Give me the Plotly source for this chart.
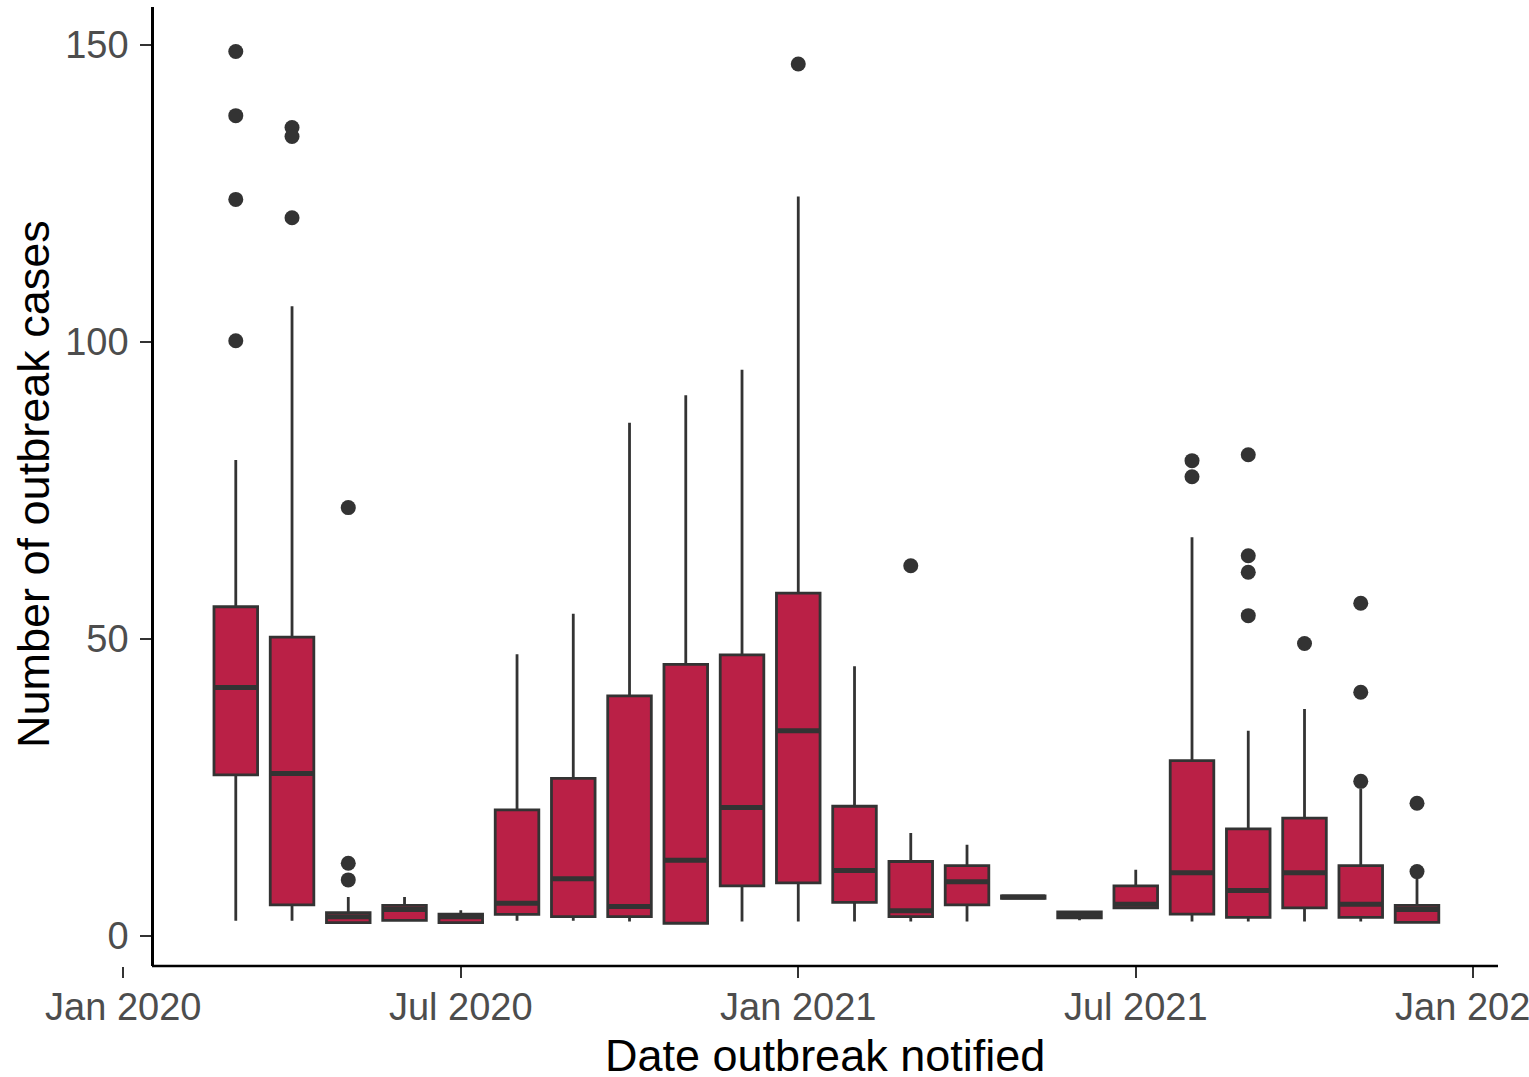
import plotly.graph_objects as go

# ---- data ----
months = ["2020-03", "2020-04", "2020-05", "2020-06", "2020-07",
          "2020-08", "2020-09", "2020-10", "2020-11", "2020-12",
          "2021-01", "2021-02", "2021-03", "2021-04", "2021-05",
          "2021-06", "2021-07", "2021-08", "2021-09", "2021-10",
          "2021-11", "2021-12"]
q1 = [27.1, 5.2, 2.2, 2.6, 2.2, 3.6, 3.2, 3.2, 2.1, 8.4, 8.9,
      5.6, 3.2, 5.2, 6.3, 3.0, 4.7, 3.65, 3.1, 4.7, 3.1, 2.25]
median = [41.8, 27.3, 3.2, 4.4, 3.2, 5.45, 9.6, 4.9, 12.7, 21.6, 34.5,
          11.0, 4.2, 9.1, 6.5, 3.5, 5.3, 10.6, 7.6, 10.6, 5.3, 4.4]
q3 = [55.4, 50.3, 3.9, 5.1, 3.65, 21.2, 26.5, 40.4, 45.7, 47.3, 57.7,
      21.8, 12.5, 11.8, 6.7, 4.0, 8.4, 29.5, 18.0, 19.8, 11.8, 5.1]
lower_whisker = [2.5, 2.5, 2.2, 2.6, 2.2, 2.5, 2.5, 2.4, 2.1, 2.4, 2.4,
                 2.4, 2.4, 2.4, 6.3, 2.6, 4.7, 2.4, 2.4, 2.4, 2.4, 2.25]
upper_whisker = [80.1, 106.0, 6.5, 6.5, 4.3, 47.4, 54.2, 86.4, 91.0, 95.3, 124.5,
                 45.4, 17.3, 15.3, 6.7, 4.0, 11.1, 67.1, 34.5, 38.2, 24.8, 9.9]

outlier_months = ["2020-03", "2020-03", "2020-03", "2020-03",
                  "2020-04", "2020-04", "2020-04",
                  "2020-05", "2020-05", "2020-05",
                  "2021-01", "2021-03",
                  "2021-08", "2021-08",
                  "2021-09", "2021-09", "2021-09", "2021-09",
                  "2021-10",
                  "2021-11", "2021-11", "2021-11",
                  "2021-12", "2021-12"]
outlier_values = [148.9, 138.1, 124.0, 100.2,
                  136.1, 134.6, 120.9,
                  72.1, 12.2, 9.4,
                  146.8, 62.3,
                  80.0, 77.3,
                  81.0, 64.0, 61.2, 53.9,
                  49.2,
                  56.0, 41.0, 26.0,
                  22.3, 10.8]

x_tick_months = ["2020-01", "2020-07", "2021-01", "2021-07", "2022-01"]
x_tick_text = ["Jan 2020", "Jul 2020", "Jan 2021", "Jul 2021", "Jan 2022"]
y_tick_vals = [0, 50, 100, 150]


def month_index(s):
    """Months elapsed since Jan 2020 (the chart's x scale is monthly)."""
    y, m = s.split("-")
    return (int(y) - 2020) * 12 + int(m) - 1


box_x = [month_index(m) for m in months]
outlier_x = [month_index(m) for m in outlier_months]
tick_x = [month_index(m) for m in x_tick_months]

# ---- style ----
FILL = "#BA2046"
DARK = "#333333"
FONT = "Liberation Sans, Arial, sans-serif"
BOX_WIDTH = 0.775

W, H = 1529, 1077
ML, MR, MT, MB = 100, 31, 7, 111
plot_w = W - ML - MR
plot_h = H - MT - MB
yaxis_px = 152
yaxis_pos = (yaxis_px - ML) / plot_w

fig = go.Figure()

fig.add_trace(go.Box(
    x=box_x, q1=q1, median=median, q3=q3,
    lowerfence=lower_whisker, upperfence=upper_whisker,
    width=BOX_WIDTH, boxpoints=False,
    fillcolor=FILL, line=dict(color=DARK, width=2.8),
    whiskerwidth=0, showlegend=False, hoverinfo="skip",
))

# thicker median bar (ggplot style)
fig.add_trace(go.Box(
    x=box_x, q1=median, median=median, q3=median,
    lowerfence=median, upperfence=median,
    width=BOX_WIDTH, boxpoints=False,
    fillcolor="rgba(0,0,0,0)", line=dict(color=DARK, width=5),
    whiskerwidth=0, showlegend=False, hoverinfo="skip",
))

fig.add_trace(go.Scatter(
    x=outlier_x, y=outlier_values, mode="markers",
    marker=dict(size=15, color=DARK), showlegend=False, hoverinfo="skip",
))

fig.update_layout(
    width=W, height=H,
    margin=dict(l=ML, r=MR, t=MT, b=MB, autoexpand=False),
    paper_bgcolor="white", plot_bgcolor="white",
    font=dict(family=FONT),
    xaxis=dict(
        range=[-0.414, 24.44],
        tickmode="array", tickvals=tick_x, ticktext=x_tick_text,
        ticks="outside", ticklen=11, tickwidth=2.3, tickcolor=DARK,
        tickfont=dict(size=38, color="#4D4D4D", family=FONT),
        showline=False, showgrid=False, zeroline=False,
        automargin=False, ticklabelstandoff=-4, ticklabeloverflow="allow",
    ),
    yaxis=dict(
        range=[-5.1, 156.4],
        anchor="free", position=yaxis_pos,
        tickmode="array", tickvals=y_tick_vals,
        ticks="outside", ticklen=11, tickwidth=2.3, tickcolor=DARK,
        tickfont=dict(size=38, color="#4D4D4D", family=FONT),
        showline=True, linecolor="black", linewidth=2.5,
        showgrid=False, zeroline=False, automargin=False,
        ticklabelstandoff=4, ticklabeloverflow="allow",
    ),
    shapes=[dict(type="line", xref="paper", yref="paper",
                 x0=yaxis_pos, x1=1, y0=0, y1=0,
                 line=dict(color="black", width=2.5))],
    annotations=[
        dict(text="Date outbreak notified", xref="paper", yref="paper",
             x=(825 - ML) / plot_w, y=-(1055 - (H - MB)) / plot_h,
             xanchor="center", yanchor="middle", showarrow=False,
             font=dict(size=45, color="black", family=FONT)),
        dict(text="Number of outbreak cases", xref="paper", yref="paper",
             x=(34 - ML) / plot_w, y=((H - MB) - 484) / plot_h,
             xanchor="center", yanchor="middle", textangle=-90, showarrow=False,
             font=dict(size=45, color="black", family=FONT)),
    ],
)

fig.write_html("out.html", config={"displayModeBar": False},
               post_script="document.body.style.margin='0px';")
